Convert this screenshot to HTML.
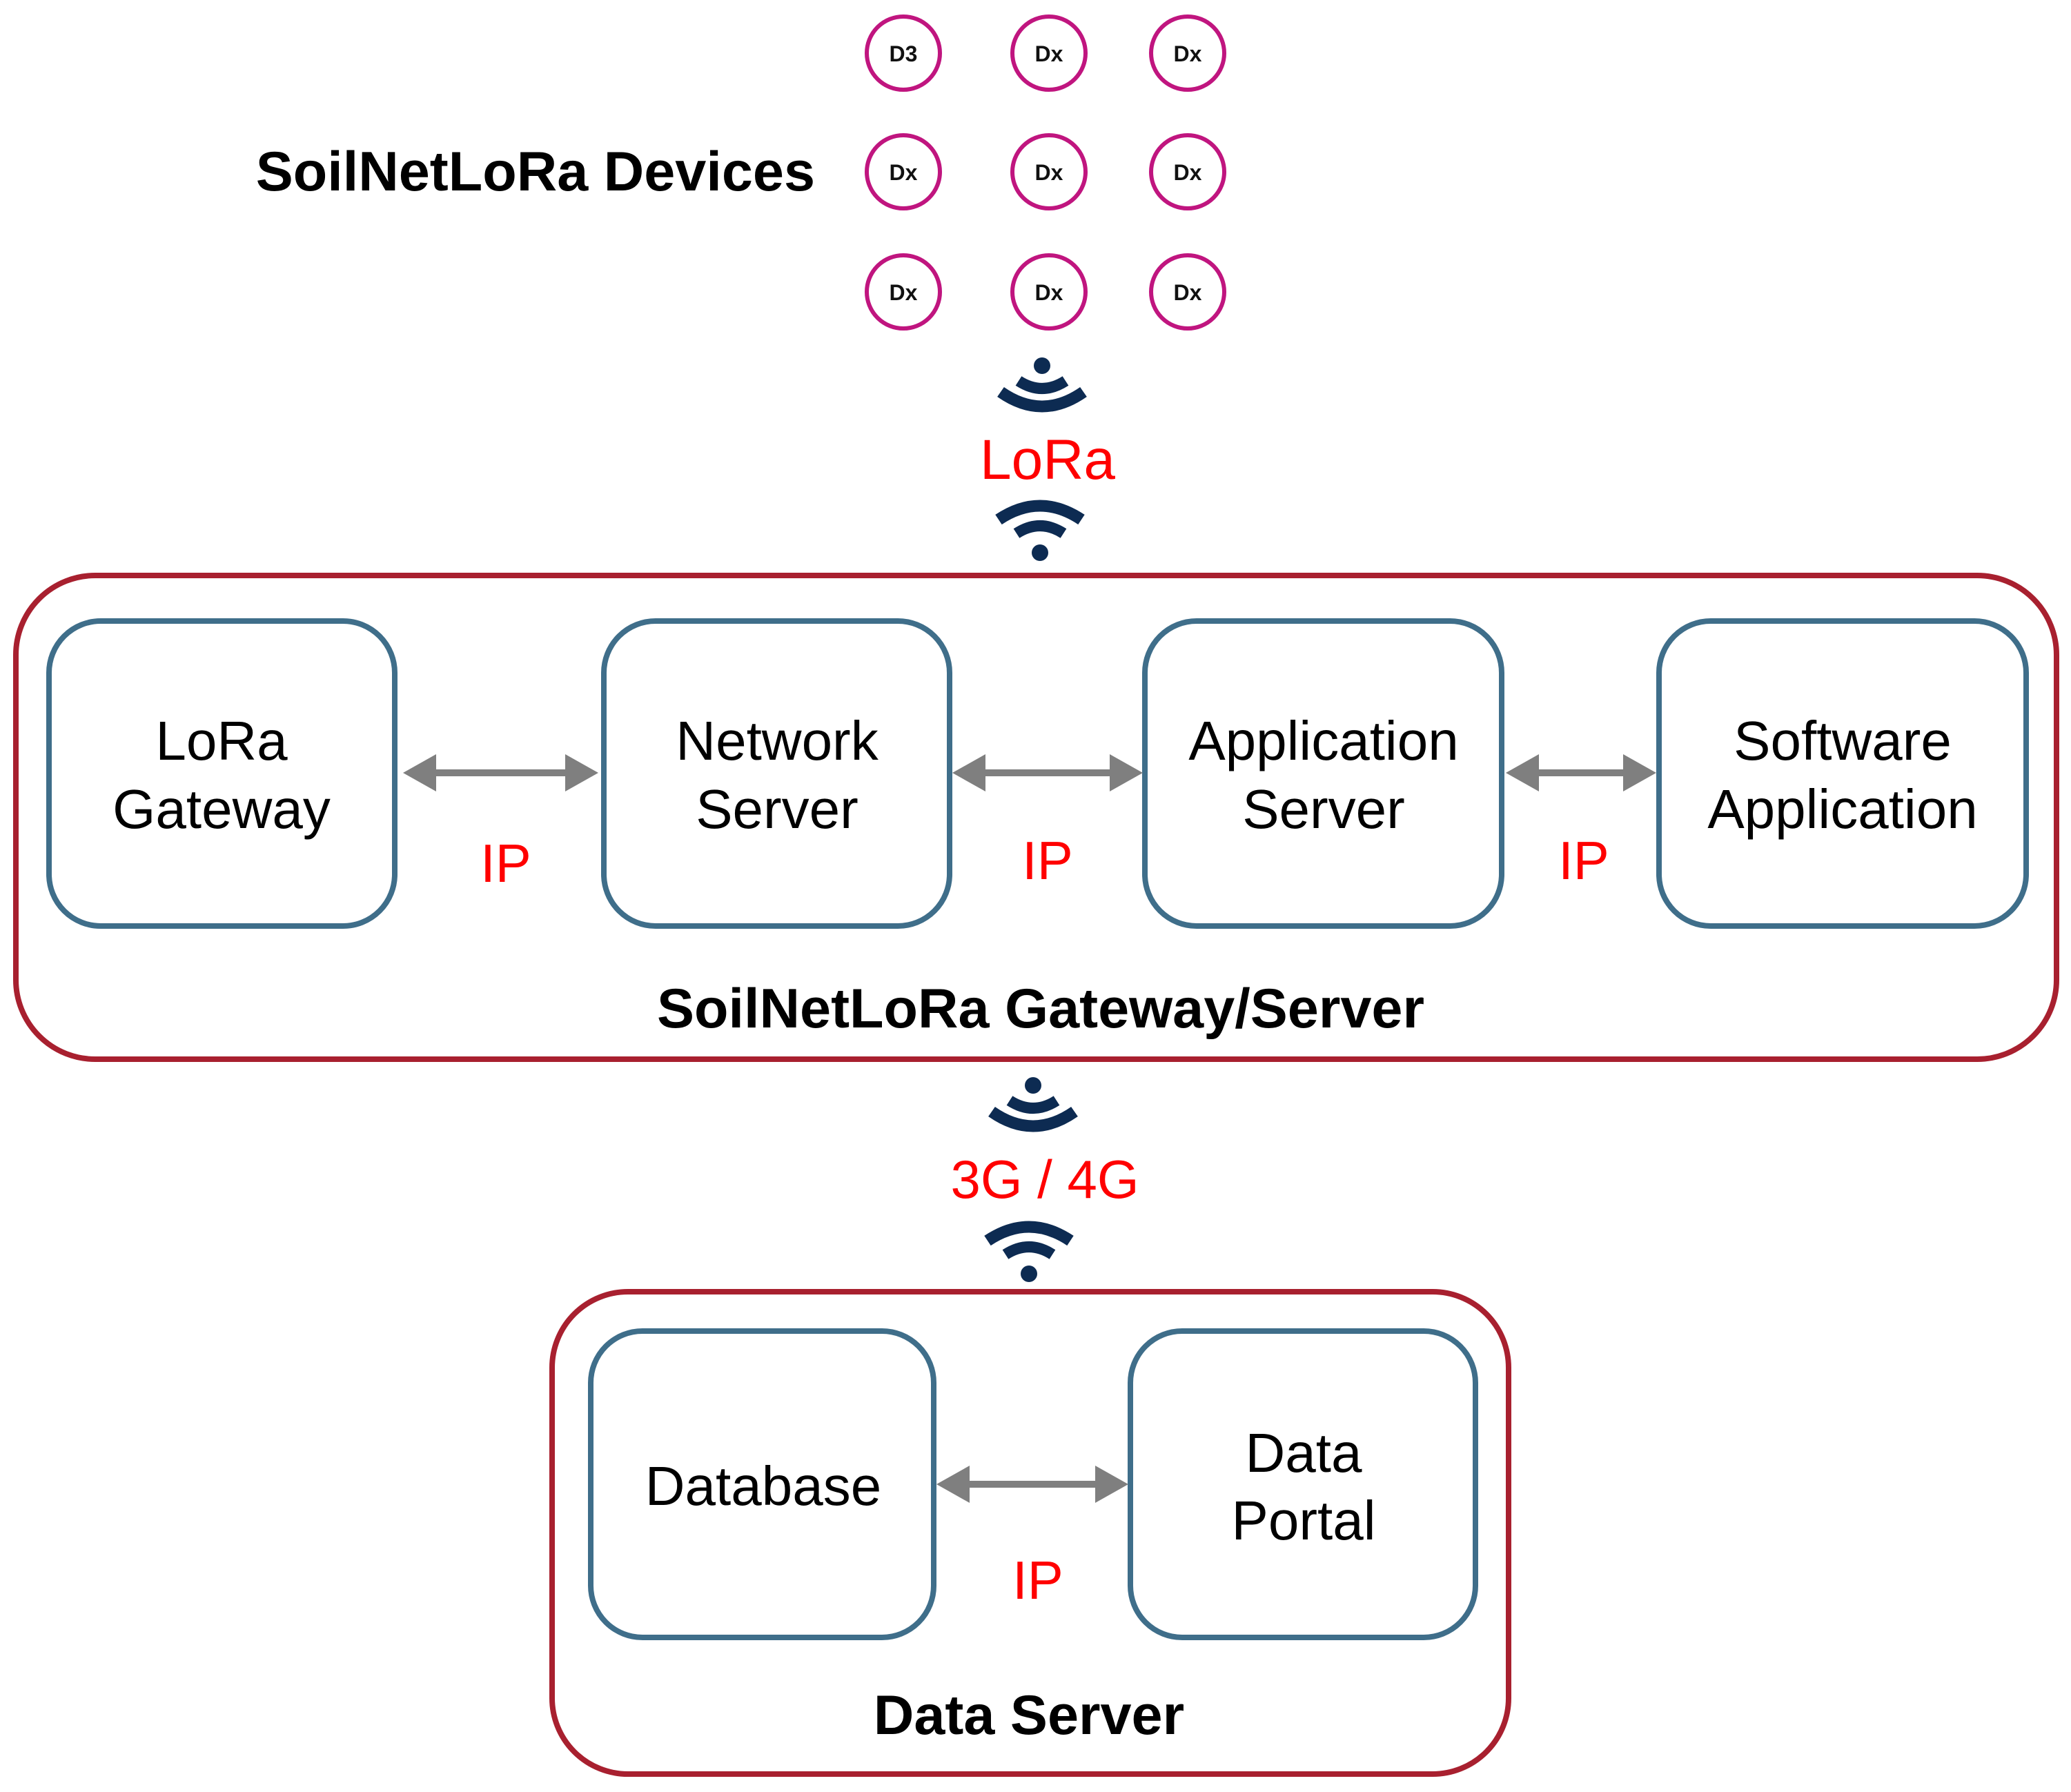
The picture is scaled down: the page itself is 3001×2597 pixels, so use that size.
<!DOCTYPE html>
<html><head><meta charset="utf-8"><style>
html,body{margin:0;padding:0;background:#fff;width:3001px;height:2597px;overflow:hidden}
text{font-family:"Liberation Sans",Arial,sans-serif}
</style></head><body>
<svg width="3001" height="2597" viewBox="0 0 3001 2597" xmlns="http://www.w3.org/2000/svg">
<defs>
<g id="sigdown">
 <circle cx="0" cy="-30" r="12" fill="#0d2b52"/>
 <path d="M-34,-8 Q0,14 34,-8" fill="none" stroke="#0d2b52" stroke-width="16"/>
 <path d="M-60,8 Q0,50 60,8" fill="none" stroke="#0d2b52" stroke-width="17"/>
</g>
<g id="wifi">
 <path d="M-60,-22 Q0,-62 60,-22" fill="none" stroke="#0d2b52" stroke-width="17"/>
 <path d="M-34,-2 Q0,-24 34,-2" fill="none" stroke="#0d2b52" stroke-width="16"/>
 <circle cx="0" cy="26" r="12" fill="#0d2b52"/>
</g>
</defs>

<g fill="none" stroke="#c0157f" stroke-width="6">
 <circle cx="1309" cy="77" r="53"/><circle cx="1520" cy="77" r="53"/><circle cx="1721" cy="77" r="53"/>
 <circle cx="1309" cy="249" r="53"/><circle cx="1520" cy="249" r="53"/><circle cx="1721" cy="249" r="53"/>
 <circle cx="1309" cy="423" r="53"/><circle cx="1520" cy="423" r="53"/><circle cx="1721" cy="423" r="53"/>
</g>
<g font-size="32" font-weight="bold" text-anchor="middle" fill="#111">
 <text x="1309" y="89">D3</text><text x="1520" y="89">Dx</text><text x="1721" y="89">Dx</text>
 <text x="1309" y="261">Dx</text><text x="1520" y="261">Dx</text><text x="1721" y="261">Dx</text>
 <text x="1309" y="435">Dx</text><text x="1520" y="435">Dx</text><text x="1721" y="435">Dx</text>
</g>
<text x="1181" y="276" font-size="81" font-weight="bold" text-anchor="end" fill="#000">SoilNetLoRa Devices</text>

<use href="#sigdown" x="1510" y="560"/>
<text x="1518" y="694" font-size="82" text-anchor="middle" fill="#ff0000">LoRa</text>
<use href="#wifi" x="1507" y="775"/>

<rect x="23" y="834" width="2957" height="701" rx="115" fill="none" stroke="#a8202f" stroke-width="8"/>
<g fill="none" stroke="#3f6e8a" stroke-width="8">
 <rect x="71" y="900" width="501" height="442" rx="75"/>
 <rect x="875" y="900" width="501" height="442" rx="75"/>
 <rect x="1659" y="900" width="517" height="442" rx="75"/>
 <rect x="2404" y="900" width="532" height="442" rx="75"/>
</g>
<g font-size="80" text-anchor="middle" fill="#000">
 <text x="321" y="1101">LoRa</text><text x="321" y="1200">Gateway</text>
 <text x="1126" y="1101">Network</text><text x="1126" y="1200">Server</text>
 <text x="1918" y="1101">Application</text><text x="1918" y="1200">Server</text>
 <text x="2670" y="1101">Software</text><text x="2670" y="1200">Application</text>
</g>
<g fill="#7f7f7f">
 <rect x="620" y="1115" width="210" height="10"/>
 <polygon points="584,1120 632,1093 632,1147"/><polygon points="867,1120 819,1093 819,1147"/>
 <rect x="1416" y="1115" width="204" height="10"/>
 <polygon points="1380,1120 1428,1093 1428,1147"/><polygon points="1656,1120 1608,1093 1608,1147"/>
 <rect x="2218" y="1115" width="146" height="10"/>
 <polygon points="2182,1120 2230,1093 2230,1147"/><polygon points="2400,1120 2352,1093 2352,1147"/>
</g>
<g font-size="78" text-anchor="middle" fill="#ff0000">
 <text x="733" y="1278">IP</text><text x="1518" y="1274">IP</text><text x="2295" y="1274">IP</text>
</g>
<text x="1508" y="1489" font-size="81" font-weight="bold" text-anchor="middle" fill="#000">SoilNetLoRa Gateway/Server</text>

<use href="#sigdown" x="1497" y="1603"/>
<text x="1514" y="1736" font-size="78" text-anchor="middle" fill="#ff0000">3G / 4G</text>
<use href="#wifi" x="1491" y="1820"/>

<rect x="800" y="1872" width="1386" height="699" rx="110" fill="none" stroke="#a8202f" stroke-width="8"/>
<g fill="none" stroke="#3f6e8a" stroke-width="8">
 <rect x="856" y="1929" width="497" height="444" rx="75"/>
 <rect x="1638" y="1929" width="500" height="444" rx="75"/>
</g>
<g font-size="80" text-anchor="middle" fill="#000">
 <text x="1106" y="2181">Database</text>
 <text x="1889" y="2133">Data</text><text x="1889" y="2231">Portal</text>
</g>
<g fill="#7f7f7f">
 <rect x="1393" y="2146" width="206" height="10"/>
 <polygon points="1357,2151 1405,2124 1405,2178"/><polygon points="1635,2151 1587,2124 1587,2178"/>
</g>
<text x="1504" y="2317" font-size="78" text-anchor="middle" fill="#ff0000">IP</text>
<text x="1491" y="2513" font-size="81" font-weight="bold" text-anchor="middle" fill="#000">Data Server</text>
</svg>
</body></html>
